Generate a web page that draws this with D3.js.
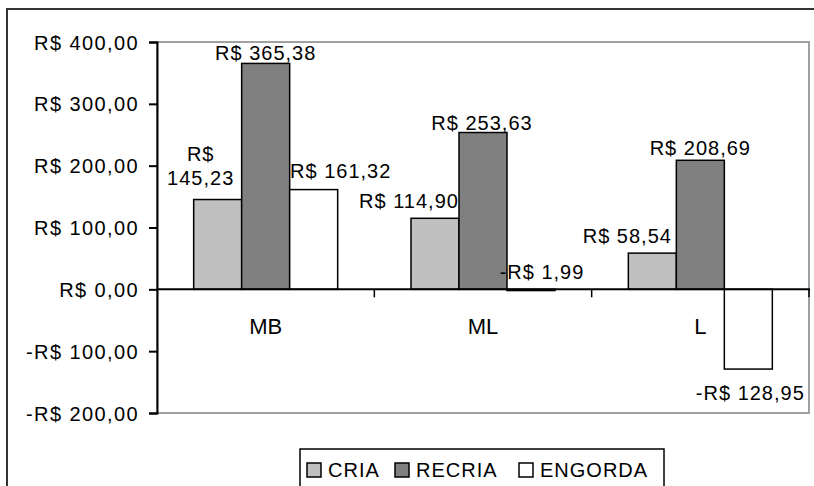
<!DOCTYPE html>
<html><head><meta charset="utf-8">
<script src="https://cdn.jsdelivr.net/npm/d3@7"></script>
<style>
body{margin:0;background:#fff;}
text{font-family:"Liberation Sans",Arial,sans-serif;fill:#000;}
</style></head>
<body><svg id="c" width="814" height="486"></svg>
<script>
const categories = ["MB", "ML", "L"];
const seriesNames = ["CRIA", "RECRIA", "ENGORDA"];
const cria = [145.23, 114.90, 58.54];
const recria = [365.38, 253.63, 208.69];
const engorda = [161.32, -1.99, -128.95];
const yTicks = [-200, -100, 0, 100, 200, 300, 400];

// styling
const colors = ["#c0c0c0", "#808080", "#ffffff"];
// label nudges [series][category] : dx, dy (relative to bar end)
const nudgeDx = [[-17, -26, -25], [0, -1, 0], [27, 11, 2]];
const nudgeDy = [[-15, -10, -10], [-3, -3, -5], [-12, -10, 31]];

const values = [cria, recria, engorda];
const svg = d3.select("#c");
const pL = 157, pR = 809, pT = 42, pB = 413;

const loc = d3.formatLocale({decimal: ",", thousands: ".", grouping: [3], currency: ["R$ ", ""]});
const f2 = loc.format(",.2f");
const money = v => (v < 0 ? "-" : "") + "R$ " + f2(Math.abs(v));

const y = d3.scaleLinear().domain([-200, 400]).range([pB, pT]);
const x0 = d3.scaleBand().domain(categories).range([pL, pR]).padding(0);
const x1 = d3.scaleBand().domain(seriesNames).range([0, x0.bandwidth()]).paddingInner(0).paddingOuter(0.764);

// outer border
svg.append("rect").attr("x", 7).attr("y", 9).attr("width", 830).attr("height", 500)
  .attr("fill", "none").attr("stroke", "#333").attr("stroke-width", 2);

// plot area border (gray)
svg.append("rect").attr("x", pL).attr("y", pT).attr("width", pR - pL).attr("height", pB - pT)
  .attr("fill", "#fff").attr("stroke", "#a0a0a0").attr("stroke-width", 2);

// bars
const g = svg.append("g");
seriesNames.forEach((s, si) => {
  categories.forEach((c, ci) => {
    const v = values[si][ci];
    const bx = x0(c) + x1(s);
    const y0 = y(0), yv = y(v);
    g.append("rect")
      .attr("x", bx).attr("y", Math.min(y0, yv))
      .attr("width", x1.bandwidth()).attr("height", Math.max(Math.abs(yv - y0), 0.5))
      .attr("fill", colors[si]).attr("stroke", "#000").attr("stroke-width", 1.5);
  });
});

// y axis
const yAxis = d3.axisLeft(y).tickValues(yTicks).tickSize(8).tickFormat(money);
const ya = svg.append("g").attr("transform", `translate(${pL},0)`).call(yAxis);
ya.select(".domain").attr("stroke", "#000").attr("stroke-width", 2);
ya.selectAll(".tick line").attr("stroke", "#000").attr("stroke-width", 2);
ya.selectAll(".tick text").attr("x", -18).attr("dy", "0.35em")
  .style("font-size", "20px").style("letter-spacing", "1.4px").style("font-family", "'Liberation Sans',Arial,sans-serif").attr("fill", "#000");

// zero line + category ticks
const xa = svg.append("g").attr("transform", `translate(0,${y(0)})`);
xa.append("line").attr("x1", pL).attr("x2", pR + 1).attr("stroke", "#000").attr("stroke-width", 2);
const bounds = categories.map(c => x0(c) + x0.bandwidth());
xa.selectAll(".ct").data(bounds).enter().append("line")
  .attr("x1", d => d).attr("x2", d => d).attr("y1", 0).attr("y2", 8)
  .attr("stroke", "#000").attr("stroke-width", 1.5);
xa.selectAll(".cl").data(categories).enter().append("text")
  .attr("x", d => x0(d) + x0.bandwidth() / 2).attr("y", 45)
  .attr("text-anchor", "middle").style("font-size", "22px").text(d => d);

// data labels
seriesNames.forEach((s, si) => {
  categories.forEach((c, ci) => {
    const v = values[si][ci];
    const cx = x0(c) + x1(s) + x1.bandwidth() / 2 + nudgeDx[si][ci];
    const yEnd = y(v);
    const ty = (v >= 0 || (ci === 1 && si === 2)) ? Math.min(yEnd, y(0)) + nudgeDy[si][ci] : yEnd + nudgeDy[si][ci];
    const t = svg.append("text").attr("text-anchor", "middle")
      .style("font-size", "20px").style("letter-spacing", "1px");
    const str = money(v);
    if (si === 0 && ci === 0) {
      const parts = str.split(" ");
      t.append("tspan").attr("x", cx).attr("y", ty - 24).text(parts[0]);
      t.append("tspan").attr("x", cx).attr("y", ty).text(parts[1]);
    } else {
      t.attr("x", cx).attr("y", ty).text(str);
    }
  });
});

// legend
const lg = svg.append("g");
lg.append("rect").attr("x", 300).attr("y", 449).attr("width", 364).attr("height", 60)
  .attr("fill", "#fff").attr("stroke", "#000").attr("stroke-width", 1.5);
const lx = [307, 395, 519];
seriesNames.forEach((s, i) => {
  lg.append("rect").attr("x", lx[i]).attr("y", 463).attr("width", 14).attr("height", 14)
    .attr("fill", colors[i]).attr("stroke", "#000").attr("stroke-width", 1.5);
  lg.append("text").attr("x", lx[i] + 21).attr("y", 477)
    .style("font-size", "20px").style("letter-spacing", "1px").text(s);
});
</script></body></html>
